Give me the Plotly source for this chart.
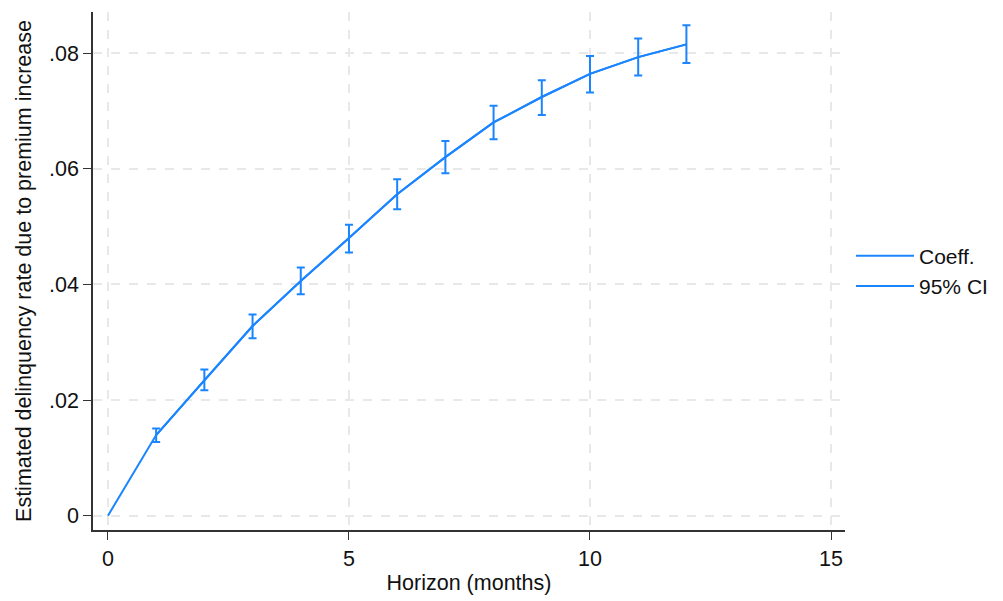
import plotly.graph_objects as go

horizon = [0, 1, 2, 3, 4, 5, 6, 7, 8, 9, 10, 11, 12]
coef = [0.0, 0.01395, 0.02346, 0.0328, 0.0406, 0.0480, 0.0556, 0.0620, 0.0680, 0.0724, 0.0764, 0.0793, 0.0815]
ci_lo = [None, 0.01274, 0.0217, 0.0307, 0.0383, 0.0455, 0.0530, 0.0592, 0.0651, 0.0693, 0.0732, 0.0761, 0.0783]
ci_hi = [None, 0.0151, 0.0253, 0.0348, 0.0429, 0.0503, 0.0582, 0.0648, 0.0709, 0.0753, 0.0795, 0.0825, 0.0848]

ytick_vals = [0, 0.02, 0.04, 0.06, 0.08]
ytick_text = ["0", ".02", ".04", ".06", ".08"]
xtick_vals = [0, 5, 10, 15]

color = "#1a85ff"
font = "Liberation Sans, Arial, sans-serif"

fig = go.Figure()
fig.add_trace(go.Scatter(x=horizon, y=coef, mode="lines", name="Coeff.",
                         line=dict(color=color, width=2)))

ci_x = [h for h, lo in zip(horizon, ci_lo) if lo is not None]
ci_y = [c for c, lo in zip(coef, ci_lo) if lo is not None]
plus = [hi - c for c, hi, lo in zip(coef, ci_hi, ci_lo) if lo is not None]
minus = [c - lo for c, lo in zip(coef, ci_lo) if lo is not None]
fig.add_trace(go.Scatter(x=ci_x, y=ci_y, mode="lines", name="95% CI",
                         line=dict(color=color, width=2),
                         error_y=dict(type="data", symmetric=False, array=plus, arrayminus=minus,
                                      color=color, thickness=2, width=4)))

fig.update_layout(
    width=1003, height=601,
    margin=dict(l=93, r=158, t=12, b=71, autoexpand=False),
    paper_bgcolor="white", plot_bgcolor="white",
    font=dict(family=font, size=22, color="#111"),
    showlegend=True,
    legend=dict(x=1.008, y=0.5, xanchor="left", yanchor="middle", itemwidth=58,
                font=dict(size=21), bgcolor="rgba(0,0,0,0)", tracegroupgap=2),
    xaxis=dict(range=[-0.31, 15.29], tickvals=xtick_vals, ticks="outside", ticklen=8,
               tickcolor="#333", showline=True, linecolor="#333", linewidth=1.5,
               showgrid=True, gridcolor="#e8e8e8", griddash="dash", gridwidth=1.5,
               zeroline=False, title=dict(text="Horizon (months)", standoff=5, font=dict(size=21.5)),
               tickfont=dict(size=21.5)),
    yaxis=dict(range=[-0.00247, 0.0871], tickvals=ytick_vals, ticktext=ytick_text,
               ticks="outside", ticklen=8, tickcolor="#333", showline=True, linecolor="#333",
               linewidth=1.5, showgrid=True, gridcolor="#e8e8e8", griddash="dash", gridwidth=1.5,
               zeroline=False,
               title=dict(text="Estimated delinquency rate due to premium increase", standoff=12,
                          font=dict(size=21.5)),
               tickfont=dict(size=21.5)),
)

fig.write_html("out.html")
